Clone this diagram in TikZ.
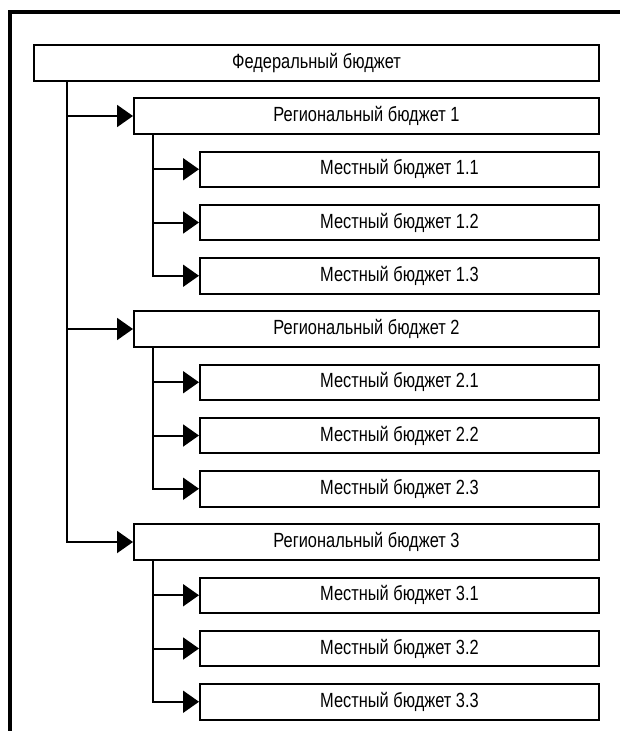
\documentclass[tikz,border=0pt]{standalone}
\usepackage{fontspec}
\setmainfont{Liberation Sans}[FakeStretch=0.8]
\usetikzlibrary{arrows.meta,calc}
\begin{document}
\begin{tikzpicture}[x=1pt,y=-1pt,
  box/.style={draw,line width=2pt,minimum height=35.5pt,inner sep=0pt,anchor=north west,font=\fontsize{20.5}{23}\selectfont},
  fedbox/.style={box,minimum width=565pt},
  regbox/.style={box,minimum width=465pt},
  locbox/.style={box,minimum width=399pt},
  conn/.style={line width=2pt,-{Triangle[length=16pt,width=22pt]}}]
\useasboundingbox (0,0) rectangle (620,731);
\fill[white] (0,0) rectangle (620,731);
\draw[line width=4pt] (9.5,731) -- (9.5,12) -- (620,12);
\node[fedbox] (fed) at (33,44) {Федеральный бюджет};
\coordinate (tk) at ($(fed.south west)+(34,0)$);
\foreach \r/\i in {1/1,2/5,3/9}{
  \node[regbox] (r\r) at (133,{44+53.25*\i}) {Региональный бюджет \r};
  \draw[conn] (tk) |- (r\r.west);
  \coordinate (s\r) at ($(r\r.south west)+(20,0)$);
  \foreach \k in {1,2,3}{
    \node[locbox] (l\r\k) at (199,{44+53.25*(\i+\k)}) {Местный бюджет \r.\k};
    \draw[conn] (s\r) |- (l\r\k.west);
  }
}
\end{tikzpicture}
\end{document}
